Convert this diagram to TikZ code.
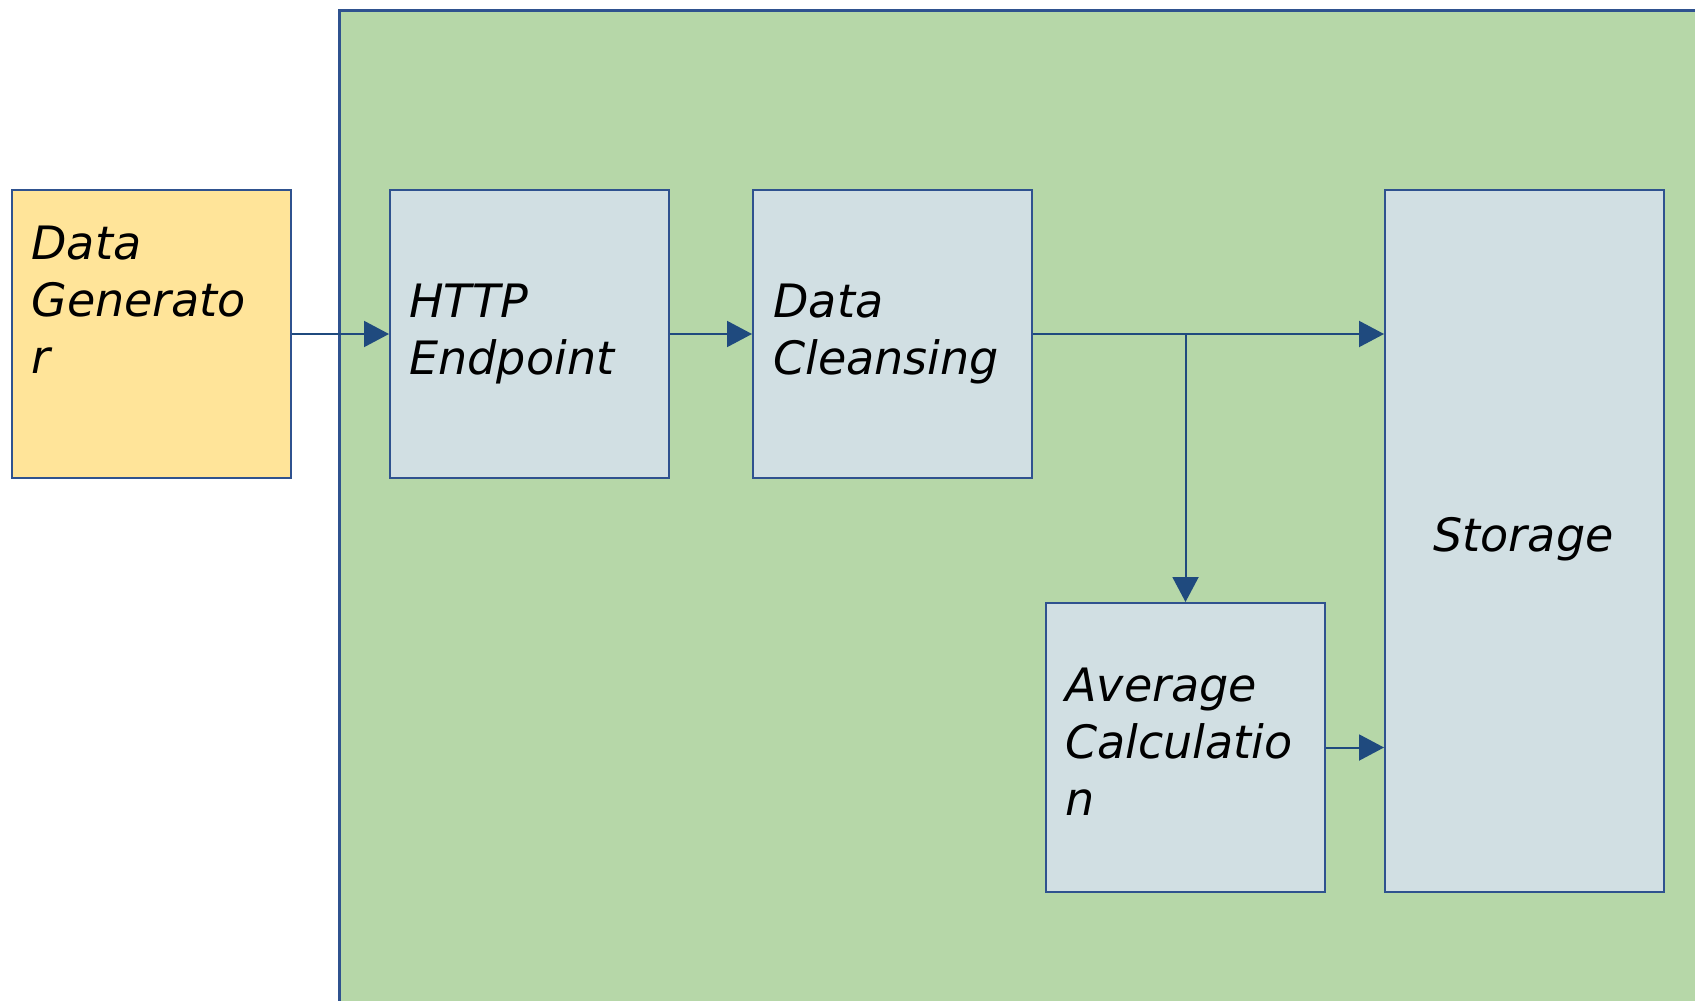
\documentclass[tikz,border=0pt]{standalone}
\usepackage{fontspec}
\setmainfont{DejaVu Sans}
\usetikzlibrary{arrows.meta}
\definecolor{bordblue}{HTML}{2F528F}
\definecolor{arrblue}{HTML}{1F4A7E}
\definecolor{yellowfill}{HTML}{FFE499}
\definecolor{greyfill}{HTML}{D1DFE3}
\definecolor{greenfill}{HTML}{B6D7A8}
\tikzset{
  box/.style={draw=bordblue, line width=1pt, rectangle, inner sep=0pt, minimum width=139.5pt, anchor=north west},
  txt/.style={anchor=base west, align=left, inner sep=0pt, font=\fontsize{23pt}{28.5pt}\selectfont\itshape},
  conn/.style={draw=arrblue, line width=1pt, -{Triangle[length=12.5pt, width=13pt]}}
}
\begin{document}
\begin{tikzpicture}[x=0.5pt, y=-0.5pt]
\useasboundingbox (0,0) rectangle (1695,1000);
\begin{scope}
\clip (0,0) rectangle (1695,1000);
\node[draw=bordblue, fill=greenfill, line width=1.5pt, rectangle, inner sep=0pt, anchor=north west, minimum width=690pt, minimum height=505pt] (zone) at (338,9) {};
\end{scope}
\node[box, fill=yellowfill, minimum height=144pt] (gen) at (11,189) {};
\node[box, fill=greyfill, minimum height=144pt] (http) at (389,189) {};
\node[box, fill=greyfill, minimum height=144pt] (clean) at (752,189) {};
\node[box, fill=greyfill, minimum height=351pt] (stor) at (1384,189) {};
\node[box, fill=greyfill, minimum height=144.5pt] (avg) at (1045,602) {};

\node[txt] (tgen) at (31,373) {Data\\Generato\\r};
\node[txt] (thttp) at (409,374) {HTTP\\Endpoint};
\node[txt] (tclean) at (773,374) {Data\\Cleansing};
\node[txt, anchor=base] (tstor) at (1523.5,551) {Storage};
\node[txt] (tavg) at (1065,815) {Average\\Calculatio\\n};

\draw[conn] (gen.east) -- (http.west);
\draw[conn] (http.east) -- (clean.west);
\draw[conn] (clean.east) -- (clean.east -| stor.west);
\draw[conn] (avg.north |- clean.east) -- (avg.north);
\draw[conn] (avg.east) -- (avg.east -| stor.west);
\end{tikzpicture}
\end{document}
